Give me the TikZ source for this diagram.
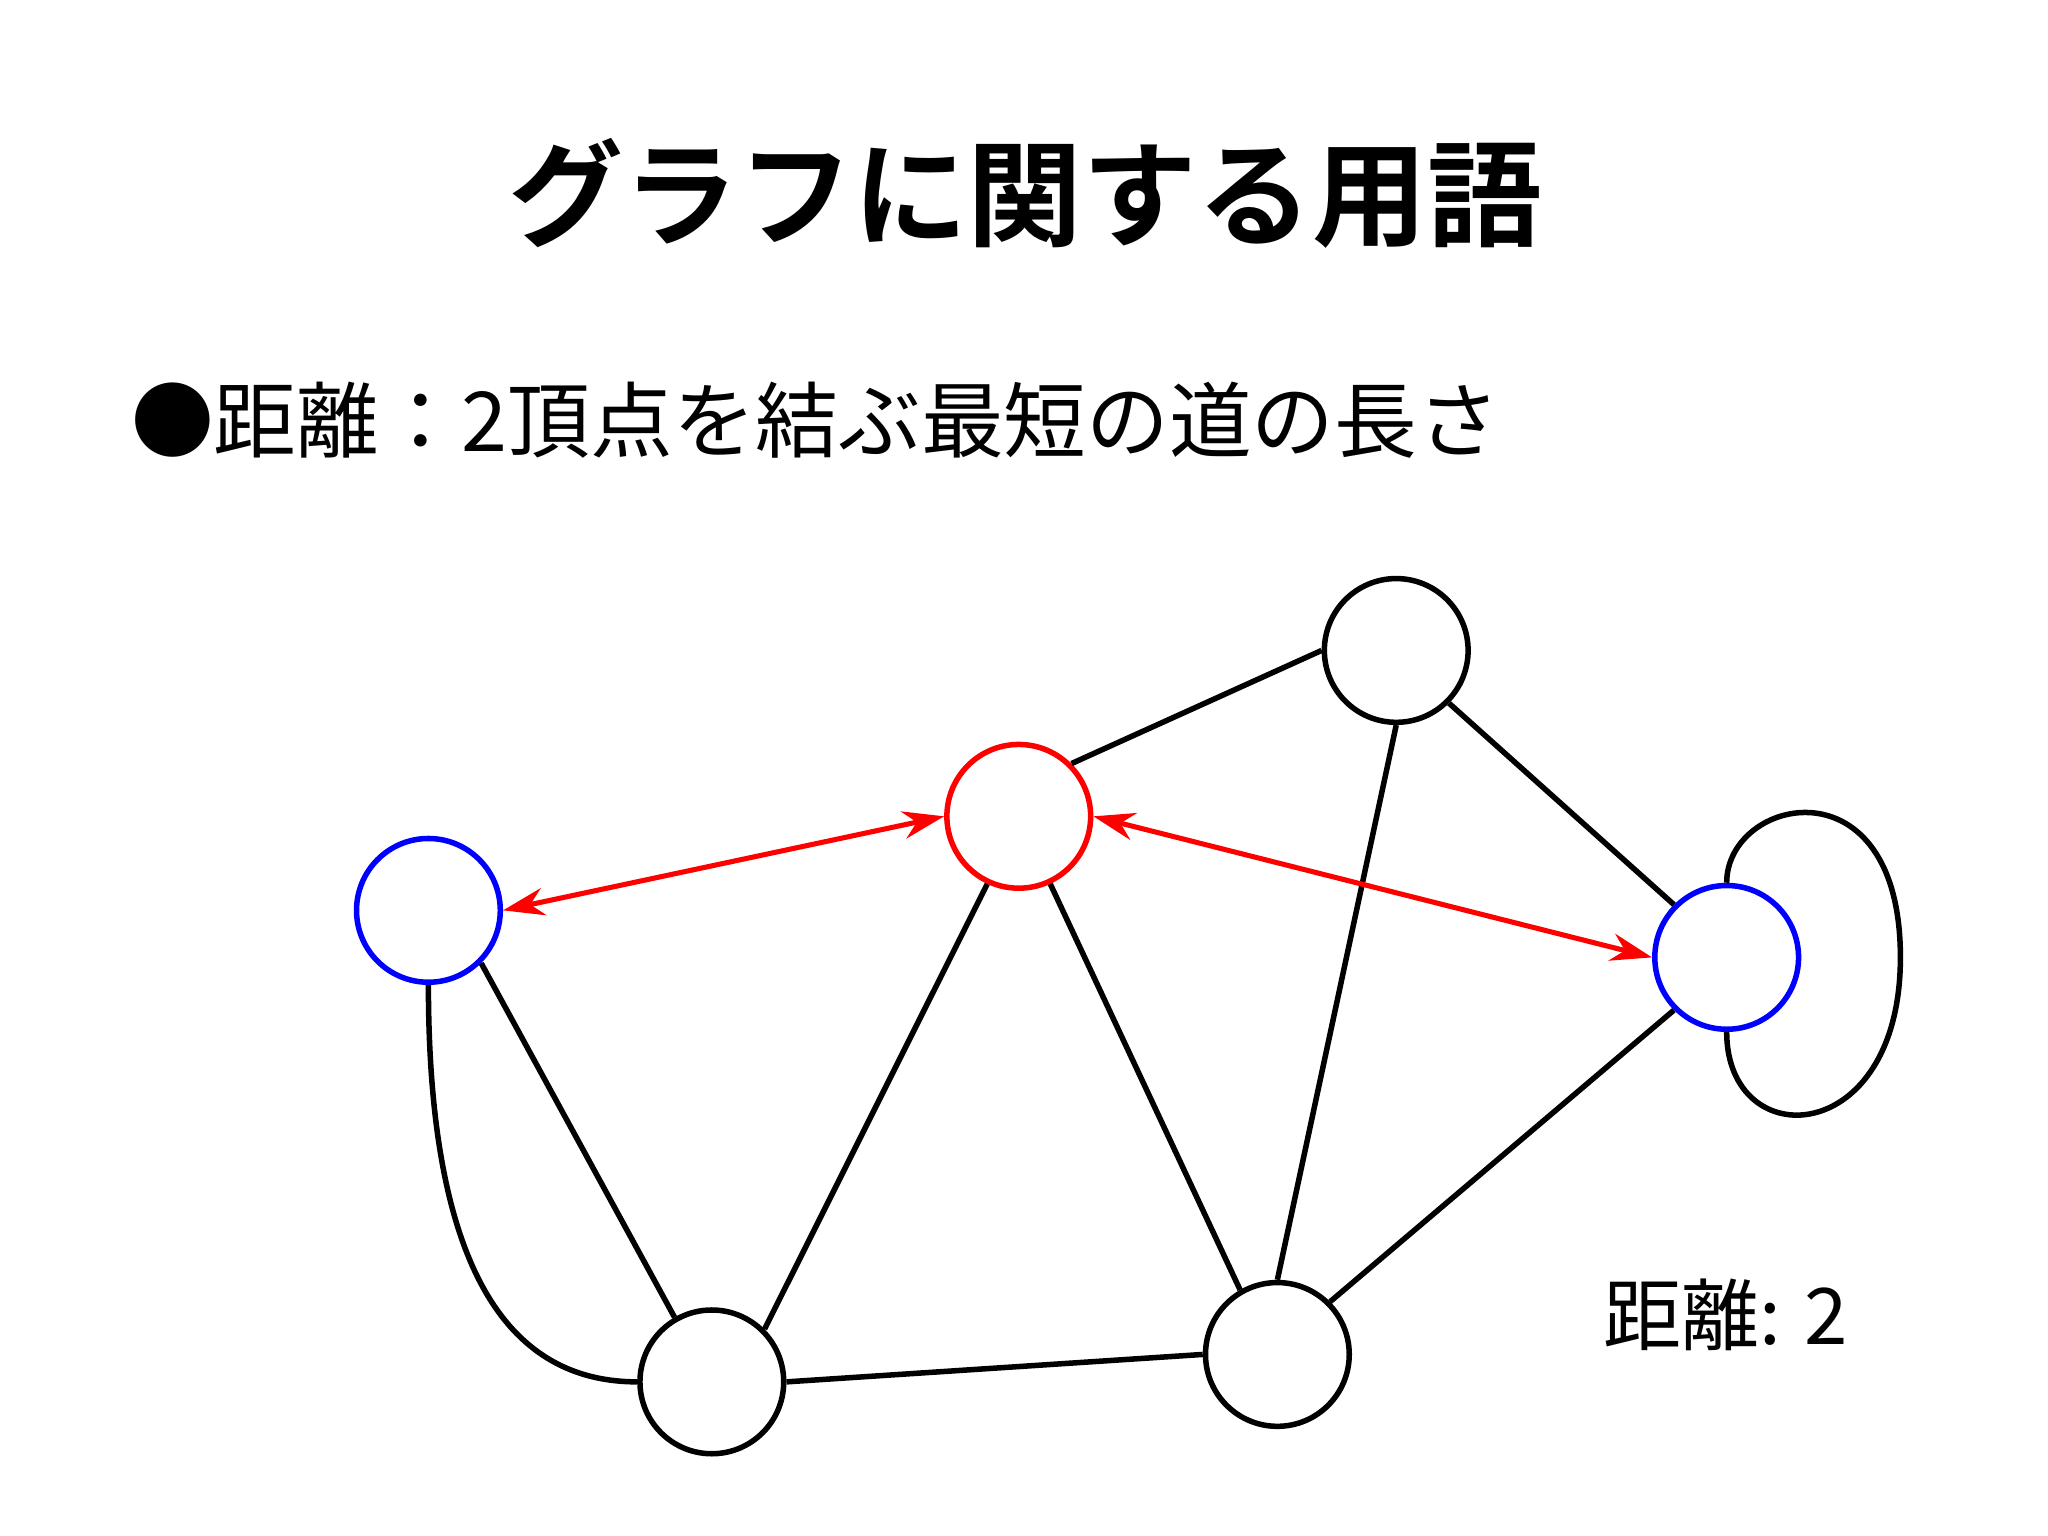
\documentclass[tikz,border=0pt]{standalone}
\usepackage{fontspec}
\setmainfont{Noto Sans CJK JP}
\newfontfamily\jpbold{Noto Sans CJK JP Bold}
\usetikzlibrary{arrows.meta}
\begin{document}
\begin{tikzpicture}[x=0.01cm,y=-0.01cm,
  vtx/.style={circle,draw=black,line width=1.2pt,minimum size=1.1cm,inner sep=0pt},
  bluev/.style={vtx,draw=blue},
  redv/.style={vtx,draw=red},
  edge/.style={line width=1.2pt,black},
  dist/.style={line width=1.1pt,red,{Stealth[length=9pt,width=6pt]}-{Stealth[length=9pt,width=6pt]}}]
\useasboundingbox (0,0) rectangle (1568,1176);
\node (title) at (785,148) {\jpbold\fontsize{25}{28}\selectfont グラフに関する用語};
\node[anchor=west] (bullet) at (88,322) {\fontsize{18}{22}\selectfont ●距離：2頂点を結ぶ最短の道の長さ};
\node (lbl) at (1321,1007) {\fontsize{17}{20}\selectfont 距離: 2};
\node[bluev] (A) at (328,697) {};
\node[redv] (B) at (780,625) {};
\node[vtx] (C) at (1069,498) {};
\node[bluev] (D) at (1322,733) {};
\node[vtx] (E) at (545,1058) {};
\node[vtx] (F) at (978,1037) {};
\draw[edge] (C.west) -- (B.45);
\draw[edge] (C.-45) -- (D.135);
\draw[edge] (C.south) -- (F.north);
\draw[edge] (B.-115) -- (E.45);
\draw[edge] (B.-65) -- (F.120);
\draw[edge] (A.-45) -- (E.120);
\draw[edge] (E.east) -- (F.west);
\draw[edge] (F.45) -- (D.225);
\draw[edge] (A.south) .. controls (328,990) and (400,1058) .. (E.west);
\draw[edge] (D.north) .. controls (1322,610) and (1455,580) .. (1455,733) .. controls (1455,880) and (1322,885) .. (D.south);
\draw[dist] (A.east) -- (B.west);
\draw[dist] (B.east) -- (D.west);
\end{tikzpicture}
\end{document}
